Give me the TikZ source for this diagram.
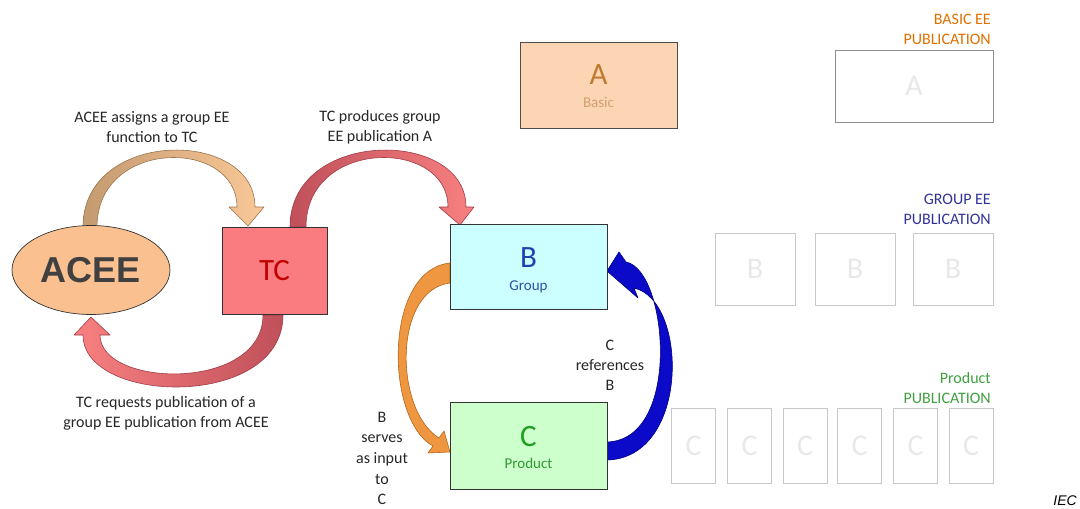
\documentclass[tikz,border=0pt]{standalone}
\usepackage{fontspec}
\setmainfont{Carlito}
\newfontfamily\arialfont{Liberation Sans}
\usetikzlibrary{shapes.geometric}
\definecolor{aceefill}{HTML}{FAC090}
\definecolor{aceetext}{HTML}{404040}
\definecolor{tcfill}{HTML}{FA7C80}
\definecolor{tctext}{HTML}{C00000}
\definecolor{bfill}{HTML}{CCFFFF}
\definecolor{bblue}{HTML}{2040B0}
\definecolor{bsub}{HTML}{3050A0}
\definecolor{cfill}{HTML}{CCFFCC}
\definecolor{cgreen}{HTML}{1F9F1F}
\definecolor{csub}{HTML}{339933}
\definecolor{afill}{HTML}{FCD5B4}
\definecolor{atext}{HTML}{C07A30}
\definecolor{asub}{HTML}{D0A070}
\definecolor{pubor}{HTML}{E07000}
\definecolor{pubnavy}{HTML}{333399}
\definecolor{pubgreen}{HTML}{40A040}
\definecolor{txtgray}{HTML}{262626}
\definecolor{ghostline}{HTML}{C8C8C8}
\definecolor{ghostA}{HTML}{8C8C8C}
\definecolor{ghostfg}{HTML}{E8E8E8}
\definecolor{aoneL}{HTML}{C49A70}
\definecolor{aoneR}{HTML}{FAC897}
\definecolor{aoneD}{HTML}{9A7450}
\definecolor{redL}{HTML}{C0505A}
\definecolor{redR}{HTML}{F88080}
\definecolor{redD}{HTML}{A03C48}
\definecolor{orfill}{HTML}{EE9640}
\definecolor{ordraw}{HTML}{B86418}
\definecolor{bluefill}{HTML}{0A0AC8}
\definecolor{bluedraw}{HTML}{000080}
\begin{document}
\begin{tikzpicture}[x=1pt,y=-1pt,
  lbl/.style={font=\fontsize{16}{20}\selectfont, align=center, text=txtgray, inner sep=1pt},
  mainbox/.style={draw=black!80, line width=0.7pt, inner sep=0pt},
  ghostbox/.style={draw=ghostline, line width=0.8pt, inner sep=0pt, text=ghostfg, font=\fontsize{30}{30}\selectfont},
  bigletter/.style={font=\fontsize{31}{31}\selectfont, inner sep=0pt},
  sublbl/.style={font=\fontsize{15}{18}\selectfont, inner sep=0pt},
  publbl/.style={font=\fontsize{16}{20}\selectfont, align=right, anchor=east, inner sep=0pt},
  fatarrow/.style={line width=0.6pt, line join=round}
]
\useasboundingbox (0,0) rectangle (1080,509);

% fat arrows
\path[fatarrow, left color=aoneL, right color=aoneR, draw=aoneD]
  (83,227) .. controls (83,128) and (255,128) .. (255,207) -- (264,207) -- (248,226) -- (229,207) -- (237,207)
  .. controls (237,138) and (97,138) .. (97,227) -- cycle;
\path[fatarrow, left color=redL, right color=redR, draw=redD]
  (290,227) .. controls (290,128) and (466,128) .. (466,207) -- (474,207) -- (460,225) -- (439,207) -- (448,207)
  .. controls (448,138) and (306,138) .. (306,227) -- cycle;
\path[fatarrow, left color=redR, right color=redL, draw=redD]
  (283,315) .. controls (283,410) and (83,405) .. (83,335) -- (74,335) -- (91,317) -- (110,335) -- (100,335)
  .. controls (100,388) and (263,392) .. (263,315) -- cycle;
\path[fatarrow, fill=orfill, draw=ordraw]
  (450,263) .. controls (383,270) and (385,420) .. (433,446) -- (428,453) -- (450,452) -- (444,431) -- (439,438)
  .. controls (394,410) and (393,290) .. (450,283) -- cycle;
\path[fatarrow, fill=bluefill, draw=bluedraw]
  (607,460) .. controls (690,458) and (688,300) .. (634,288) -- (638,298) -- (607,271) -- (619,252) -- (626,262)
  .. controls (668,270) and (682,440) .. (607,442) -- cycle;

% main nodes
\node[mainbox, ellipse, fill=aceefill, minimum width=158pt, minimum height=89pt,
      text=aceetext, font=\arialfont\bfseries\fontsize{36}{36}\selectfont] (acee) at (91,270) {ACEE};
\node[mainbox, fill=tcfill, minimum width=105pt, minimum height=87pt,
      text=tctext, font=\fontsize{31}{31}\selectfont] (tc) at (274.5,270.5) {TC};
\node[mainbox, fill=bfill, minimum width=157pt, minimum height=85pt] (b) at (528.5,266.5) {};
\node[bigletter, text=bblue] (bletter) at (528.5,258) {B};
\node[sublbl, text=bsub] (bsubl) at (528.5,287) {Group};
\node[mainbox, fill=cfill, minimum width=157pt, minimum height=87pt] (c) at (528.5,445.5) {};
\node[bigletter, text=cgreen] (cletter) at (528.5,437) {C};
\node[sublbl, text=csub] (csubl) at (528.5,463) {Product};
\node[mainbox, draw=black!70, fill=afill, minimum width=157pt, minimum height=86pt] (a) at (598.5,85) {};
\node[bigletter, text=atext] (aletter) at (598.5,75) {A};
\node[sublbl, text=asub] (asubl) at (598.5,102) {Basic};

% labels
\node[lbl] (l1) at (152,127) {ACEE assigns a group EE\\function to TC};
\node[lbl] (l2) at (380,127) {TC produces group\\EE publication A};
\node[lbl] (l3) at (166,413) {TC requests publication of a\\group EE publication from ACEE};
\node[lbl, fill=white] (l4) at (610,365) {C\\references\\B};
\node[lbl, font=\fontsize{16}{20.7}\selectfont] (l5) at (382,458.5) {B\\serves\\as input\\to\\C};

% right side publications
\node[publbl, text=pubor] (basiclbl) at (991,29) {BASIC EE\\PUBLICATION};
\node[ghostbox, draw=ghostA, minimum width=158pt, minimum height=72pt] (aout) at (914,86) {A};

\node[publbl, text=pubnavy] (grouplbl) at (991,209) {GROUP EE\\PUBLICATION};
\node[ghostbox, minimum width=80pt, minimum height=72pt] (bg1) at (755,269) {B};
\node[ghostbox, minimum width=80pt, minimum height=72pt] (bg2) at (855,269) {B};
\node[ghostbox, minimum width=80pt, minimum height=72pt] (bg3) at (953,269) {B};

\node[publbl, text=pubgreen] (prodlbl) at (991,388) {Product\\PUBLICATION};
\foreach \cx [count=\i] in {693.5,749.5,805,859.5,915.5,971}{
  \node[ghostbox, minimum width=44pt, minimum height=75pt] (cg\i) at (\cx,445.5) {C};
}

\node[font=\arialfont\itshape\fontsize{14}{14}\selectfont, anchor=east, inner sep=0pt] (iec) at (1077,501) {IEC};
\end{tikzpicture}
\end{document}
